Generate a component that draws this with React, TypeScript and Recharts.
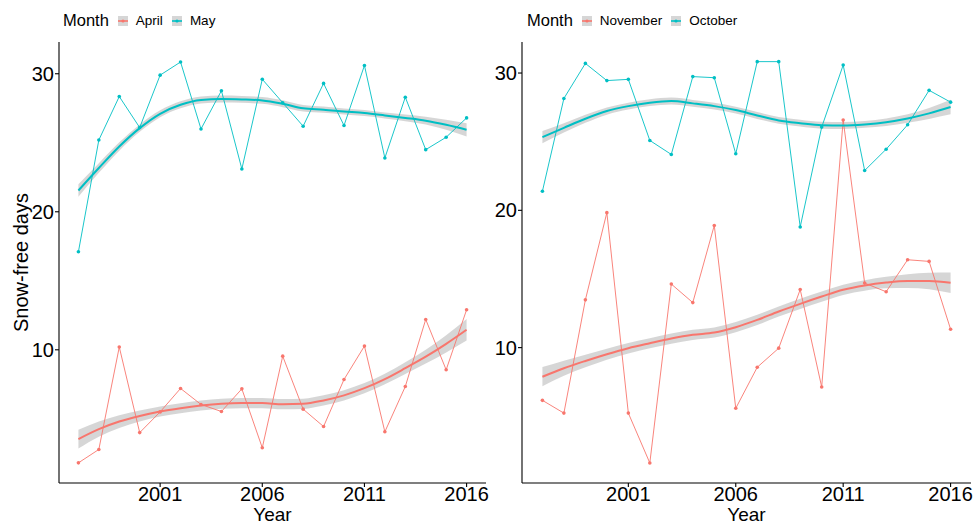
import React from "react";
import {
  ComposedChart,
  Line,
  Area,
  XAxis,
  YAxis,
} from "recharts";

const years = [
  1997, 1998, 1999, 2000, 2001, 2002, 2003, 2004, 2005, 2006,
  2007, 2008, 2009, 2010, 2011, 2012, 2013, 2014, 2015, 2016,
];
const yearTicks = [2001, 2006, 2011, 2016];
const dayTicks = [10, 20, 30];

// spring panel
const april = [1.81, 2.78, 10.2, 4.0, 5.5, 7.2, 6.04, 5.53, 7.17, 2.9, 9.54, 5.7, 4.44, 7.85, 10.27, 4.06, 7.34, 12.2, 8.55, 12.9];
const may = [17.1, 25.2, 28.35, 26.1, 29.9, 30.85, 26.0, 28.77, 23.1, 29.6, 27.9, 26.2, 29.3, 26.25, 30.6, 23.9, 28.3, 24.5, 25.4, 26.8];
const aprilFit = [3.53, 4.25, 4.8, 5.2, 5.53, 5.77, 5.96, 6.09, 6.14, 6.14, 6.06, 6.09, 6.33, 6.7, 7.22, 7.88, 8.67, 9.5, 10.43, 11.45];
const aprilSe = [0.68, 0.55, 0.46, 0.4, 0.37, 0.36, 0.36, 0.36, 0.37, 0.37, 0.37, 0.37, 0.37, 0.37, 0.37, 0.38, 0.42, 0.5, 0.62, 0.78];
const mayFit = [21.54, 23.17, 24.73, 26.06, 27.1, 27.75, 28.1, 28.17, 28.14, 28.07, 27.83, 27.5, 27.4, 27.27, 27.15, 26.98, 26.8, 26.6, 26.3, 25.94];
const maySe = [0.45, 0.35, 0.3, 0.27, 0.25, 0.25, 0.25, 0.25, 0.25, 0.25, 0.25, 0.23, 0.22, 0.22, 0.22, 0.22, 0.24, 0.28, 0.36, 0.48];

// autumn panel
const november = [6.16, 5.23, 13.48, 19.83, 5.23, 1.6, 14.63, 13.28, 18.9, 5.58, 8.57, 9.96, 14.23, 7.13, 26.57, 14.7, 14.07, 16.4, 16.28, 11.34];
const october = [21.39, 28.15, 30.7, 29.45, 29.54, 25.09, 24.07, 29.74, 29.66, 24.12, 30.83, 30.83, 18.79, 26.06, 30.58, 22.9, 24.45, 26.23, 28.74, 27.88];
const novFit = [7.88, 8.5, 9.03, 9.52, 9.96, 10.32, 10.66, 10.93, 11.1, 11.49, 12.02, 12.63, 13.19, 13.72, 14.21, 14.53, 14.74, 14.85, 14.85, 14.72];
const novSe = [0.7, 0.55, 0.46, 0.4, 0.38, 0.37, 0.37, 0.37, 0.37, 0.37, 0.37, 0.37, 0.37, 0.37, 0.37, 0.38, 0.42, 0.5, 0.6, 0.75];
const octFit = [25.33, 26.01, 26.67, 27.23, 27.59, 27.84, 27.96, 27.79, 27.59, 27.3, 26.91, 26.55, 26.35, 26.2, 26.18, 26.26, 26.42, 26.69, 27.06, 27.52];
const octSe = [0.44, 0.34, 0.29, 0.26, 0.25, 0.25, 0.25, 0.25, 0.25, 0.25, 0.25, 0.25, 0.25, 0.25, 0.25, 0.25, 0.27, 0.31, 0.4, 0.53];

const RED = "#F8766D";
const TEAL = "#00BFC4";
const FONT = "'Liberation Sans', Arial, sans-serif";

type Series = { name: string; color: string; values: number[]; fit: number[]; se: number[] };

const spring: Series[] = [
  { name: "April", color: RED, values: april, fit: aprilFit, se: aprilSe },
  { name: "May", color: TEAL, values: may, fit: mayFit, se: maySe },
];
const autumn: Series[] = [
  { name: "November", color: RED, values: november, fit: novFit, se: novSe },
  { name: "October", color: TEAL, values: october, fit: octFit, se: octSe },
];

function buildRows(series: Series[]) {
  return years.map((year, i) => {
    const row: Record<string, any> = { year };
    series.forEach((s) => {
      row[s.name] = s.values[i];
      row[s.name + "_fit"] = s.fit[i];
      row[s.name + "_band"] = [s.fit[i] - s.se[i], s.fit[i] + s.se[i]];
    });
    return row;
  });
}

const Key = ({ color }: { color: string }) => (
  <svg width={10} height={10} style={{ display: "block" }}>
    <rect x={0} y={0} width={10} height={10} fill="#999999" fillOpacity={0.4} />
    <line x1={0} x2={10} y1={5} y2={5} stroke={color} strokeWidth={1.6} />
    <circle cx={5} cy={5} r={1.6} fill={color} />
  </svg>
);

const MonthLegend = ({ series, left }: { series: Series[]; left: number }) => (
  <div
    style={{
      position: "absolute",
      left,
      top: 11,
      display: "flex",
      alignItems: "center",
      fontFamily: FONT,
      color: "#000",
    }}
  >
    <span style={{ fontSize: 16.5, marginRight: 9 }}>Month</span>
    {series.map((s) => (
      <div key={s.name} style={{ display: "flex", alignItems: "center", marginRight: 9 }}>
        <Key color={s.color} />
        <span style={{ fontSize: 13.5, marginLeft: 8 }}>{s.name}</span>
      </div>
    ))}
  </div>
);

const YLabel = (props: any) => {
  const vb = props.viewBox || {};
  const cx = (vb.x ?? 0) + 21;
  const cy = (vb.y ?? 0) + (vb.height ?? 0) / 2;
  return (
    <text
      x={cx}
      y={cy}
      transform={`rotate(-90 ${cx} ${cy})`}
      textAnchor="middle"
      dominantBaseline="central"
      fontSize={20}
      fontFamily={FONT}
      fill="#000"
    >
      Snow-free days
    </text>
  );
};

type PanelProps = {
  series: Series[];
  width: number;
  yWidth: number;
  rightMargin: number;
  domain: [number, number];
  showYLabel?: boolean;
};

const Panel = ({ series, width, yWidth, rightMargin, domain, showYLabel }: PanelProps) => {
  const rows = buildRows(series);
  const tickStyle = { fontSize: 20, fill: "#000", fontFamily: FONT };
  return (
    <ComposedChart
      width={width}
      height={523}
      data={rows}
      margin={{ top: 42, right: rightMargin, bottom: 0, left: 0 }}
    >
      <XAxis
        type="number"
        dataKey="year"
        domain={[1996.05, 2016.95]}
        ticks={yearTicks}
        allowDataOverflow
        height={40}
        tickSize={4}
        tickMargin={0}
        tick={tickStyle}
        stroke="#000"
        axisLine={{ stroke: "#000", strokeWidth: 1.1 }}
        tickLine={{ stroke: "#000", strokeWidth: 1.1 }}
        label={{ value: "Year", position: "insideBottom", offset: 2, fontSize: 19, fill: "#000", fontFamily: FONT }}
      />
      <YAxis
        type="number"
        domain={domain}
        ticks={dayTicks}
        allowDataOverflow
        width={yWidth}
        tickSize={4}
        tickMargin={1}
        tick={tickStyle}
        stroke="#000"
        axisLine={{ stroke: "#000", strokeWidth: 1.1 }}
        tickLine={{ stroke: "#000", strokeWidth: 1.1 }}
        label={showYLabel ? <YLabel /> : undefined}
      />
      {series.map((s) => (
        <Line
          key={s.name}
          type="linear"
          dataKey={s.name}
          stroke={s.color}
          strokeWidth={0.9}
          dot={{ r: 1.8, fill: s.color, stroke: "none" }}
          activeDot={false}
          isAnimationActive={false}
        />
      ))}
      {series.map((s) => (
        <Area
          key={s.name + "_band"}
          type="monotone"
          dataKey={s.name + "_band"}
          stroke="none"
          fill="#999999"
          fillOpacity={0.4}
          activeDot={false}
          isAnimationActive={false}
        />
      ))}
      {series.map((s) => (
        <Line
          key={s.name + "_fit"}
          type="monotone"
          dataKey={s.name + "_fit"}
          stroke={s.color}
          strokeWidth={2}
          dot={false}
          activeDot={false}
          isAnimationActive={false}
        />
      ))}
    </ComposedChart>
  );
};

export default function App() {
  return (
    <div
      style={{
        position: "absolute",
        left: 0,
        top: 0,
        width: 974,
        height: 523,
        background: "#fff",
        overflow: "hidden",
      }}
    >
      <div style={{ position: "absolute", left: 0, top: 0 }}>
        <Panel series={spring} width={490} yWidth={59} rightMargin={4} domain={[0.35, 32.3]} showYLabel />
      </div>
      <div style={{ position: "absolute", left: 490, top: 0 }}>
        <Panel series={autumn} width={484} yWidth={32} rightMargin={3} domain={[0.14, 32.26]} />
      </div>
      <MonthLegend series={spring} left={63} />
      <MonthLegend series={autumn} left={527} />
    </div>
  );
}
